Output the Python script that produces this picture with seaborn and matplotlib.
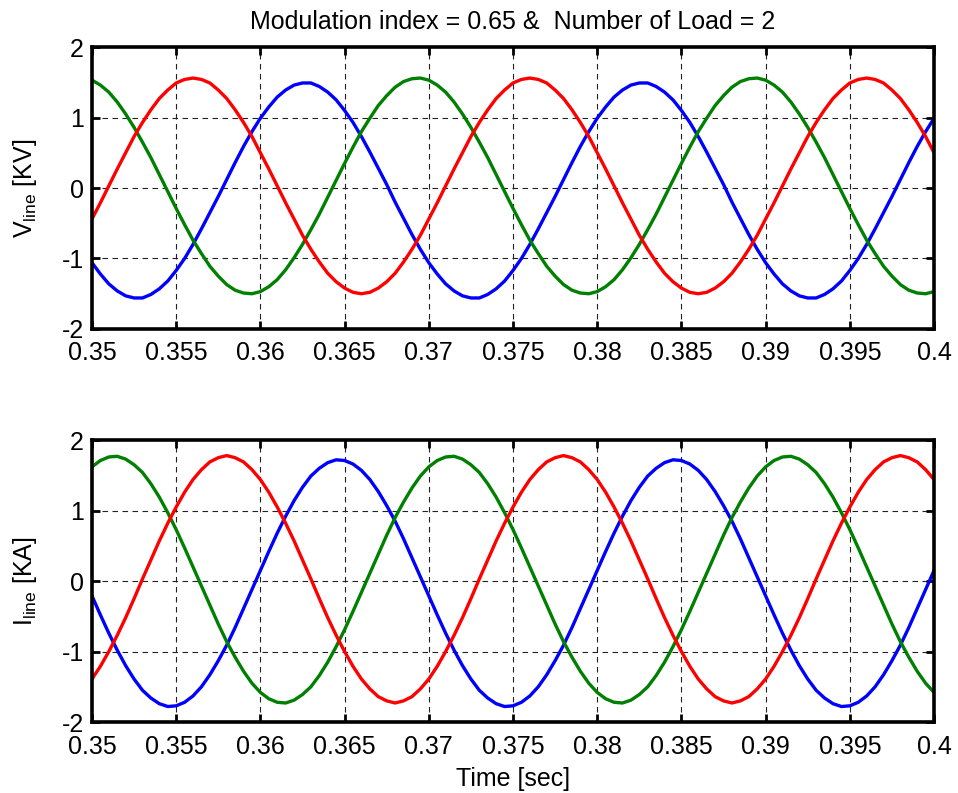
import numpy as np
import pandas as pd
import matplotlib
matplotlib.use("Agg")
import matplotlib.pyplot as plt
import seaborn as sns

# time samples (0.5 ms apart)
time_s = np.round(np.linspace(0.35, 0.40, 101), 4)

# line voltages [KV]
v_blue = [-1.06, -1.22, -1.36, -1.46, -1.53, -1.56, -1.56, -1.51, -1.43, -1.32,
          -1.17, -1.00, -0.80, -0.58, -0.35, -0.12, 0.12, 0.36, 0.59, 0.80,
          0.99, 1.15, 1.29, 1.39, 1.46, 1.49, 1.49, 1.44, 1.36, 1.25,
          1.10, 0.93, 0.73, 0.51, 0.28, 0.05, -0.20, -0.43, -0.66, -0.87,
          -1.06, -1.22, -1.36, -1.46, -1.53, -1.56, -1.56, -1.51, -1.43, -1.32,
          -1.17, -1.00, -0.80, -0.58, -0.35, -0.12, 0.12, 0.36, 0.59, 0.80,
          0.99, 1.15, 1.29, 1.39, 1.46, 1.49, 1.49, 1.44, 1.36, 1.25,
          1.10, 0.93, 0.73, 0.51, 0.28, 0.05, -0.20, -0.43, -0.66, -0.87,
          -1.06, -1.22, -1.36, -1.46, -1.53, -1.56, -1.56, -1.51, -1.43, -1.32,
          -1.17, -1.00, -0.80, -0.58, -0.35, -0.12, 0.12, 0.36, 0.59, 0.80,
          0.99]
v_green = [1.53, 1.46, 1.36, 1.22, 1.05, 0.86, 0.65, 0.43, 0.19, -0.05,
           -0.29, -0.52, -0.74, -0.93, -1.11, -1.25, -1.37, -1.45, -1.49, -1.50,
           -1.47, -1.40, -1.30, -1.16, -0.99, -0.80, -0.59, -0.37, -0.13, 0.11,
           0.35, 0.58, 0.80, 0.99, 1.17, 1.31, 1.43, 1.51, 1.55, 1.56,
           1.53, 1.46, 1.36, 1.22, 1.05, 0.86, 0.65, 0.43, 0.19, -0.05,
           -0.29, -0.52, -0.74, -0.93, -1.11, -1.25, -1.37, -1.45, -1.49, -1.50,
           -1.47, -1.40, -1.30, -1.16, -0.99, -0.80, -0.59, -0.37, -0.13, 0.11,
           0.35, 0.58, 0.80, 0.99, 1.17, 1.31, 1.43, 1.51, 1.55, 1.56,
           1.53, 1.46, 1.36, 1.22, 1.05, 0.86, 0.65, 0.43, 0.19, -0.05,
           -0.29, -0.52, -0.74, -0.93, -1.11, -1.25, -1.37, -1.45, -1.49, -1.50,
           -1.47]
v_red = [-0.44, -0.21, 0.03, 0.27, 0.50, 0.73, 0.93, 1.11, 1.27, 1.39,
         1.49, 1.54, 1.56, 1.54, 1.49, 1.39, 1.27, 1.11, 0.93, 0.73,
         0.50, 0.27, 0.03, -0.21, -0.44, -0.67, -0.87, -1.05, -1.21, -1.33,
         -1.42, -1.48, -1.50, -1.48, -1.42, -1.33, -1.21, -1.05, -0.87, -0.67,
         -0.44, -0.21, 0.03, 0.27, 0.50, 0.73, 0.93, 1.11, 1.27, 1.39,
         1.49, 1.54, 1.56, 1.54, 1.49, 1.39, 1.27, 1.11, 0.93, 0.73,
         0.50, 0.27, 0.03, -0.21, -0.44, -0.67, -0.87, -1.05, -1.21, -1.33,
         -1.42, -1.48, -1.50, -1.48, -1.42, -1.33, -1.21, -1.05, -0.87, -0.67,
         -0.44, -0.21, 0.03, 0.27, 0.50, 0.73, 0.93, 1.11, 1.27, 1.39,
         1.49, 1.54, 1.56, 1.54, 1.49, 1.39, 1.27, 1.11, 0.93, 0.73,
         0.50]

# line currents [KA]
i_blue = [-0.21, -0.48, -0.74, -0.98, -1.20, -1.39, -1.55, -1.66, -1.74, -1.78,
          -1.77, -1.72, -1.63, -1.50, -1.33, -1.13, -0.91, -0.66, -0.39, -0.12,
          0.15, 0.42, 0.68, 0.92, 1.14, 1.33, 1.49, 1.60, 1.68, 1.72,
          1.71, 1.66, 1.57, 1.44, 1.27, 1.07, 0.85, 0.60, 0.33, 0.06,
          -0.21, -0.48, -0.74, -0.98, -1.20, -1.39, -1.55, -1.66, -1.74, -1.78,
          -1.77, -1.72, -1.63, -1.50, -1.33, -1.13, -0.91, -0.66, -0.39, -0.12,
          0.15, 0.42, 0.68, 0.92, 1.14, 1.33, 1.49, 1.60, 1.68, 1.72,
          1.71, 1.66, 1.57, 1.44, 1.27, 1.07, 0.85, 0.60, 0.33, 0.06,
          -0.21, -0.48, -0.74, -0.98, -1.20, -1.39, -1.55, -1.66, -1.74, -1.78,
          -1.77, -1.72, -1.63, -1.50, -1.33, -1.13, -0.91, -0.66, -0.39, -0.12,
          0.15]
i_green = [1.62, 1.71, 1.76, 1.77, 1.73, 1.65, 1.54, 1.38, 1.19, 0.97,
           0.73, 0.47, 0.20, -0.07, -0.34, -0.61, -0.86, -1.08, -1.28, -1.45,
           -1.58, -1.67, -1.72, -1.73, -1.69, -1.61, -1.50, -1.34, -1.15, -0.93,
           -0.69, -0.43, -0.16, 0.11, 0.38, 0.65, 0.90, 1.12, 1.32, 1.49,
           1.62, 1.71, 1.76, 1.77, 1.73, 1.65, 1.54, 1.38, 1.19, 0.97,
           0.73, 0.47, 0.20, -0.07, -0.34, -0.61, -0.86, -1.08, -1.28, -1.45,
           -1.58, -1.67, -1.72, -1.73, -1.69, -1.61, -1.50, -1.34, -1.15, -0.93,
           -0.69, -0.43, -0.16, 0.11, 0.38, 0.65, 0.90, 1.12, 1.32, 1.49,
           1.62, 1.71, 1.76, 1.77, 1.73, 1.65, 1.54, 1.38, 1.19, 0.97,
           0.73, 0.47, 0.20, -0.07, -0.34, -0.61, -0.86, -1.08, -1.28, -1.45,
           -1.58]
i_red = [-1.39, -1.21, -1.00, -0.77, -0.52, -0.25, 0.03, 0.30, 0.57, 0.82,
         1.05, 1.26, 1.44, 1.58, 1.69, 1.75, 1.78, 1.75, 1.69, 1.58,
         1.44, 1.26, 1.05, 0.82, 0.57, 0.30, 0.03, -0.25, -0.52, -0.77,
         -1.00, -1.21, -1.39, -1.53, -1.64, -1.70, -1.73, -1.70, -1.64, -1.53,
         -1.39, -1.21, -1.00, -0.77, -0.52, -0.25, 0.03, 0.30, 0.57, 0.82,
         1.05, 1.26, 1.44, 1.58, 1.69, 1.75, 1.78, 1.75, 1.69, 1.58,
         1.44, 1.26, 1.05, 0.82, 0.57, 0.30, 0.03, -0.25, -0.52, -0.77,
         -1.00, -1.21, -1.39, -1.53, -1.64, -1.70, -1.73, -1.70, -1.64, -1.53,
         -1.39, -1.21, -1.00, -0.77, -0.52, -0.25, 0.03, 0.30, 0.57, 0.82,
         1.05, 1.26, 1.44, 1.58, 1.69, 1.75, 1.78, 1.75, 1.69, 1.58,
         1.44]

x_ticks = [0.35, 0.355, 0.36, 0.365, 0.37, 0.375, 0.38, 0.385, 0.39, 0.395, 0.4]
x_tick_labels = ["0.35", "0.355", "0.36", "0.365", "0.37", "0.375",
                 "0.38", "0.385", "0.39", "0.395", "0.4"]
y_ticks = [-2, -1, 0, 1, 2]

title = "Modulation index = 0.65 &  Number of Load = 2"
phase_colors = {"a": "#0000ff", "b": "#008000", "c": "#ff0000"}

sns.set_style("ticks")
plt.rcParams["font.family"] = ["Liberation Sans", "DejaVu Sans"]
plt.rcParams["mathtext.default"] = "regular"
plt.rcParams["axes.unicode_minus"] = False
plt.rcParams["text.color"] = "black"
plt.rcParams["axes.labelcolor"] = "black"
plt.rcParams["xtick.color"] = "black"
plt.rcParams["ytick.color"] = "black"


def long_frame(blue, green, red):
    return pd.concat([
        pd.DataFrame({"time": time_s, "value": blue, "phase": "a"}),
        pd.DataFrame({"time": time_s, "value": green, "phase": "b"}),
        pd.DataFrame({"time": time_s, "value": red, "phase": "c"}),
    ], ignore_index=True)


fig, axes = plt.subplots(2, 1, figsize=(9.58, 7.93), dpi=100)
fig.subplots_adjust(left=0.096, right=0.975, top=0.9407, bottom=0.0895, hspace=0.394)

panels = [
    (long_frame(v_blue, v_green, v_red), "V$_{line}$ [KV]"),
    (long_frame(i_blue, i_green, i_red), "I$_{line}$ [KA]"),
]

for ax, (df, ylabel) in zip(axes, panels):
    sns.lineplot(data=df, x="time", y="value", hue="phase",
                 hue_order=["a", "b", "c"], palette=phase_colors,
                 estimator=None, linewidth=2.4, legend=False, ax=ax)
    ax.set_xlim(0.35, 0.4)
    ax.set_ylim(-2, 2)
    ax.set_xticks(x_ticks)
    ax.set_xticklabels(x_tick_labels)
    ax.set_yticks(y_ticks)
    ax.grid(True, color="#222222", linestyle=(0, (5, 4)), linewidth=0.8)
    ax.set_axisbelow(True)
    ax.tick_params(direction="in", top=True, right=True, length=6, width=2,
                   labelsize=18, colors="black")
    ax.tick_params(axis="x", pad=9)
    ax.tick_params(axis="y", pad=6)
    for sp in ax.spines.values():
        sp.set_visible(True)
        sp.set_linewidth(2.6)
        sp.set_color("black")
    ax.set_ylabel(ylabel, fontsize=18, labelpad=16, color="black")
    ax.set_xlabel("")

axes[0].set_title(title, fontsize=18, pad=13, color="black")
axes[1].set_xlabel("Time [sec]", fontsize=18, labelpad=6, color="black")

fig.savefig("out.png", dpi=100, facecolor="white")
